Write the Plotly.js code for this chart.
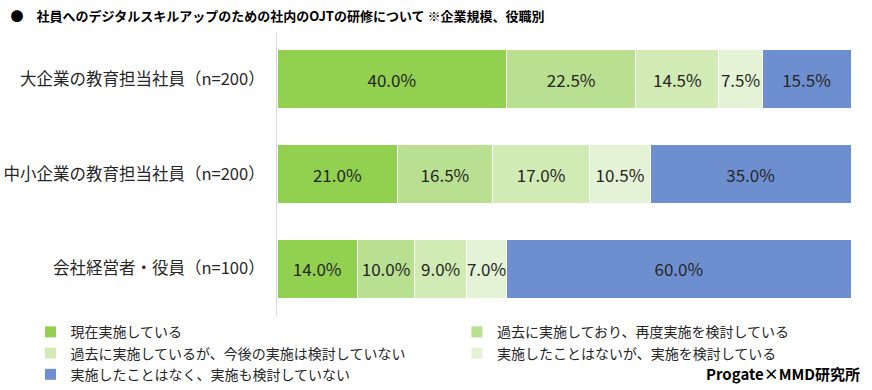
<!DOCTYPE html>
<html>
<head>
<meta charset="utf-8">
<script src="https://cdn.plot.ly/plotly-3.0.1.min.js"></script>
<style>html,body{margin:0;padding:0;background:#fff;}#chart{width:872px;height:390px;}</style>
</head>
<body>
<div id="chart"></div>
<script>
const categories = ["大企業の教育担当社員（n=200）", "中小企業の教育担当社員（n=200）", "会社経営者・役員（n=100）"];
const seriesNames = [
  "現在実施している",
  "過去に実施しており、再度実施を検討している",
  "過去に実施しているが、今後の実施は検討していない",
  "実施したことはないが、実施を検討している",
  "実施したことはなく、実施も検討していない"
];
const s1 = [40.0, 21.0, 14.0];
const s2 = [22.5, 16.5, 10.0];
const s3 = [14.5, 17.0, 9.0];
const s4 = [7.5, 10.5, 7.0];
const s5 = [15.5, 35.0, 60.0];
const seriesValues = [s1, s2, s3, s4, s5];
const colors = ["#92D050", "#B9DF90", "#D2EAB4", "#E4F2D5", "#6E8FCF"];
const legendGroups = ["legend", "legend2", "legend", "legend2", "legend"];
const titleText = "●　社員へのデジタルスキルアップのための社内のOJTの研修について ※企業規模、役職別";
const sourceText = "Progate×MMD研究所";

const FONT = "'Noto Sans CJK JP', 'Noto Sans', sans-serif";

const traces = seriesValues.map((vals, i) => ({
  type: "bar",
  orientation: "h",
  name: seriesNames[i],
  legend: legendGroups[i],
  y: categories,
  x: vals,
  text: vals.map(v => v.toFixed(1) + "%"),
  textposition: "inside",
  insidetextanchor: "middle",
  textangle: 0,
  constraintext: "none",
  textfont: {family: FONT, size: 17, color: "#262626"},
  marker: {color: colors[i], line: {color: "#ffffff", width: 1}},
  hoverinfo: "none"
}));

const legendFont = {family: FONT, size: 14, color: "#262626"};

const layout = {
  width: 872,
  height: 390,
  margin: {l: 277, r: 21, t: 32, b: 74, autoexpand: false},
  paper_bgcolor: "#ffffff",
  plot_bgcolor: "#ffffff",
  barmode: "stack",
  bargap: 0.38,
  font: {family: FONT, color: "#262626"},
  title: {
    text: "<b>" + titleText + "</b>",
    font: {family: FONT, size: 13, color: "#000000"},
    xref: "container", yref: "container",
    x: 0.012, xanchor: "left",
    y: 0.958, yanchor: "middle"
  },
  xaxis: {
    range: [0, 100],
    visible: false,
    fixedrange: true
  },
  yaxis: {
    autorange: "reversed",
    showline: true,
    linecolor: "#d9d9d9",
    linewidth: 1,
    ticks: "",
    showgrid: false,
    zeroline: false,
    ticklabelstandoff: 8,
    tickfont: {family: FONT, size: 16.5, color: "#262626"}
  },
  showlegend: true,
  legend: {
    orientation: "v",
    xref: "container", yref: "container",
    x: 0.035, xanchor: "left",
    y: 0.189, yanchor: "top",
    traceorder: "normal",
    font: legendFont,
    itemwidth: 30,
    tracegroupgap: 0
  },
  legend2: {
    orientation: "v",
    xref: "container", yref: "container",
    x: 0.524, xanchor: "left",
    y: 0.189, yanchor: "top",
    traceorder: "normal",
    font: legendFont,
    itemwidth: 30,
    tracegroupgap: 0
  },
  annotations: [{
    text: "<b>" + sourceText + "</b>",
    xref: "paper", yref: "paper",
    x: 1.019, xanchor: "right",
    y: -0.201, yanchor: "middle",
    showarrow: false,
    font: {family: FONT, size: 15, color: "#000000"}
  }]
};

Plotly.newPlot("chart", traces, layout, {displayModeBar: false, staticPlot: true});
</script>
</body>
</html>
